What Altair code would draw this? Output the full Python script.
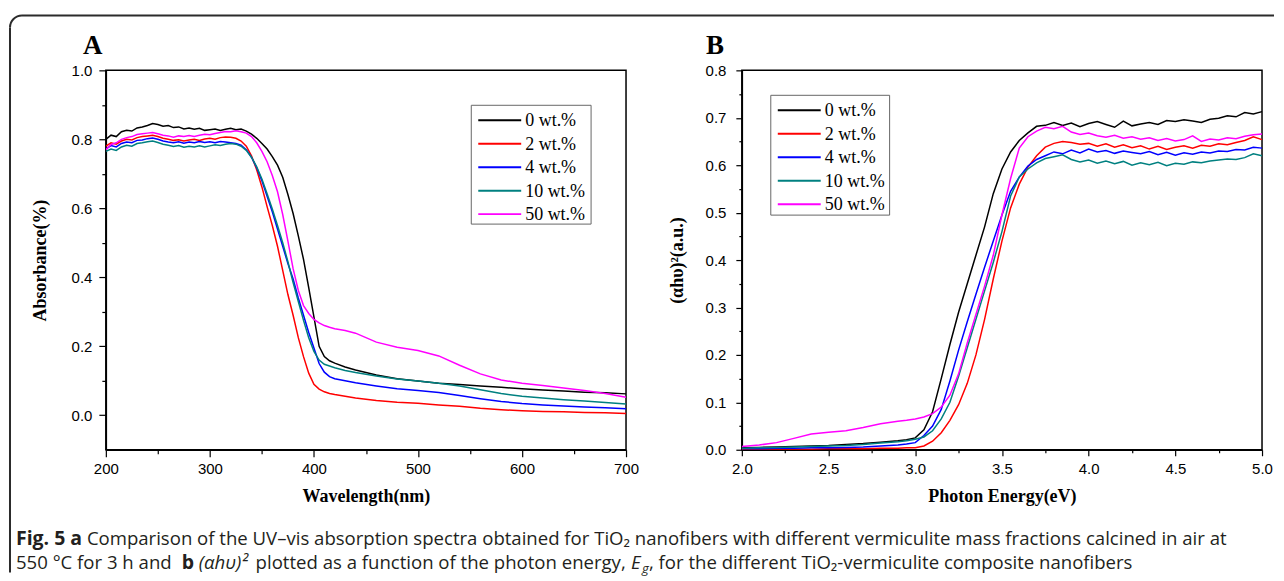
import altair as alt
import pandas as pd

SERIES = ["0 wt.%", "2 wt.%", "4 wt.%", "10 wt.%", "50 wt.%"]
COLORS = ["#000000", "#ff0000", "#0000ff", "#008080", "#ff00ff"]

# ---------------- Panel A : absorbance vs wavelength ----------------
wavelength = [200, 205, 210, 215, 220, 225, 230, 235, 240, 245,
              250, 255, 260, 265, 270, 275, 280, 285, 290, 295,
              300, 305, 310, 315, 320, 325, 330, 335, 340, 345,
              350, 355, 360, 365, 370, 375, 380, 385, 390, 395,
              400, 405, 410, 415, 420,
              430, 440, 460, 480, 500, 520, 540, 560, 580, 600, 620, 640, 660, 680, 700]

abs_0 = [0.800, 0.812, 0.808, 0.822, 0.826, 0.824, 0.833, 0.836, 0.840, 0.846,
         0.843, 0.838, 0.840, 0.834, 0.836, 0.830, 0.833, 0.829, 0.832, 0.826,
         0.828, 0.830, 0.826, 0.829, 0.832, 0.828, 0.830, 0.824, 0.815, 0.803,
         0.788, 0.772, 0.750, 0.725, 0.690, 0.640, 0.585, 0.520, 0.452, 0.370,
         0.285, 0.200, 0.170, 0.158, 0.151,
         0.140, 0.131, 0.117, 0.106, 0.099, 0.093, 0.089, 0.085, 0.081, 0.077, 0.073, 0.070, 0.067, 0.065, 0.062]
abs_2 = [0.780, 0.790, 0.786, 0.795, 0.800, 0.798, 0.805, 0.808, 0.810, 0.812,
         0.808, 0.803, 0.800, 0.797, 0.799, 0.795, 0.798, 0.800, 0.797, 0.801,
         0.803, 0.800, 0.805, 0.807, 0.806, 0.803, 0.795, 0.780, 0.752, 0.712,
         0.662, 0.605, 0.550, 0.490, 0.420, 0.350, 0.290, 0.225, 0.170, 0.122,
         0.090, 0.076, 0.068, 0.063, 0.060,
         0.055, 0.050, 0.043, 0.038, 0.035, 0.030, 0.026, 0.020, 0.016, 0.013, 0.011, 0.010, 0.008, 0.007, 0.005]
abs_4 = [0.772, 0.782, 0.778, 0.788, 0.792, 0.790, 0.797, 0.798, 0.802, 0.804,
         0.800, 0.795, 0.792, 0.790, 0.793, 0.789, 0.792, 0.790, 0.794, 0.791,
         0.793, 0.790, 0.794, 0.792, 0.790, 0.788, 0.783, 0.770, 0.748, 0.718,
         0.680, 0.635, 0.590, 0.540, 0.490, 0.440, 0.395, 0.340, 0.290, 0.240,
         0.195, 0.150, 0.125, 0.112, 0.106,
         0.100, 0.094, 0.085, 0.077, 0.072, 0.066, 0.057, 0.048, 0.040, 0.034, 0.030, 0.027, 0.024, 0.022, 0.019]
abs_10 = [0.765, 0.772, 0.768, 0.778, 0.783, 0.780, 0.788, 0.790, 0.793, 0.795,
          0.791, 0.786, 0.783, 0.779, 0.782, 0.777, 0.780, 0.778, 0.781, 0.778,
          0.781, 0.784, 0.782, 0.786, 0.788, 0.786, 0.780, 0.768, 0.748, 0.720,
          0.685, 0.642, 0.598, 0.550, 0.500, 0.445, 0.385, 0.330, 0.275, 0.225,
          0.185, 0.160, 0.148, 0.143, 0.138,
          0.130, 0.124, 0.114, 0.105, 0.099, 0.093, 0.085, 0.074, 0.063, 0.055, 0.050, 0.045, 0.041, 0.037, 0.033]
abs_50 = [0.770, 0.785, 0.790, 0.800, 0.805, 0.808, 0.814, 0.816, 0.818, 0.820,
          0.816, 0.812, 0.810, 0.806, 0.810, 0.808, 0.811, 0.808, 0.812, 0.815,
          0.813, 0.817, 0.820, 0.823, 0.822, 0.825, 0.822, 0.818, 0.808, 0.790,
          0.765, 0.735, 0.695, 0.648, 0.582, 0.505, 0.425, 0.362, 0.318, 0.295,
          0.278, 0.268, 0.260, 0.255, 0.251,
          0.246, 0.238, 0.212, 0.197, 0.188, 0.172, 0.145, 0.120, 0.102, 0.093, 0.086, 0.079, 0.072, 0.063, 0.052]

# ---------------- Panel B : (ahv)^2 vs photon energy ----------------
energy = [2.0, 2.1, 2.2, 2.3, 2.4, 2.5, 2.6, 2.7, 2.8, 2.9, 2.95,
          3.0, 3.05, 3.1, 3.15, 3.2, 3.25, 3.3, 3.35, 3.4, 3.45, 3.5, 3.55,
          3.6, 3.65, 3.7, 3.75, 3.8, 3.85, 3.9, 3.95, 4.0, 4.05, 4.1, 4.15, 4.2, 4.25,
          4.3, 4.35, 4.4, 4.45, 4.5, 4.55, 4.6, 4.65, 4.7, 4.75, 4.8, 4.85, 4.9, 4.95, 5.0]

ahv_0 = [0.004, 0.005, 0.006, 0.007, 0.008, 0.009, 0.011, 0.013, 0.016, 0.019, 0.021,
         0.025, 0.042, 0.080, 0.150, 0.222, 0.290, 0.350, 0.410, 0.470, 0.540, 0.592, 0.628,
         0.652, 0.668, 0.682, 0.684, 0.690, 0.684, 0.689, 0.681, 0.688, 0.692, 0.686, 0.680, 0.693, 0.683,
         0.687, 0.690, 0.686, 0.694, 0.692, 0.696, 0.693, 0.690, 0.697, 0.699, 0.704, 0.702, 0.711, 0.708, 0.713]
ahv_2 = [0.000, 0.000, 0.001, 0.001, 0.001, 0.002, 0.002, 0.002, 0.003, 0.003, 0.004,
         0.004, 0.008, 0.018, 0.036, 0.062, 0.095, 0.140, 0.200, 0.275, 0.360, 0.440, 0.510,
         0.560, 0.596, 0.620, 0.638, 0.646, 0.650, 0.648, 0.644, 0.646, 0.640, 0.645, 0.638, 0.643, 0.637,
         0.641, 0.634, 0.640, 0.633, 0.638, 0.641, 0.636, 0.642, 0.640, 0.645, 0.643, 0.648, 0.652, 0.660, 0.654]
ahv_4 = [0.002, 0.002, 0.003, 0.003, 0.004, 0.004, 0.005, 0.006, 0.008, 0.010, 0.012,
         0.015, 0.030, 0.050, 0.085, 0.145, 0.210, 0.270, 0.328, 0.385, 0.440, 0.495, 0.545,
         0.575, 0.598, 0.612, 0.620, 0.628, 0.624, 0.632, 0.626, 0.634, 0.628, 0.631, 0.625, 0.630, 0.627,
         0.624, 0.629, 0.622, 0.627, 0.621, 0.626, 0.623, 0.628, 0.626, 0.630, 0.629, 0.633, 0.632, 0.638, 0.636]
ahv_10 = [0.003, 0.004, 0.005, 0.006, 0.007, 0.008, 0.009, 0.011, 0.014, 0.017, 0.019,
          0.022, 0.027, 0.040, 0.065, 0.100, 0.155, 0.215, 0.275, 0.335, 0.395, 0.460, 0.535,
          0.575, 0.592, 0.605, 0.614, 0.618, 0.622, 0.612, 0.607, 0.611, 0.604, 0.609, 0.603, 0.608, 0.600,
          0.605, 0.601, 0.606, 0.599, 0.604, 0.602, 0.607, 0.605, 0.609, 0.611, 0.613, 0.612, 0.616, 0.624, 0.620]
ahv_50 = [0.007, 0.010, 0.015, 0.024, 0.033, 0.037, 0.040, 0.047, 0.055, 0.060, 0.062,
          0.065, 0.069, 0.076, 0.090, 0.115, 0.160, 0.225, 0.285, 0.345, 0.410, 0.495, 0.572,
          0.636, 0.660, 0.672, 0.680, 0.677, 0.682, 0.670, 0.665, 0.668, 0.662, 0.659, 0.663, 0.657, 0.660,
          0.655, 0.658, 0.652, 0.656, 0.651, 0.654, 0.662, 0.650, 0.655, 0.653, 0.658, 0.656, 0.661, 0.664, 0.666]

# tick values (majors are labelled, the others are minor ticks)
ticks_xA = [200, 250, 300, 350, 400, 450, 500, 550, 600, 650, 700]
ticks_yA = [0.0, 0.1, 0.2, 0.3, 0.4, 0.5, 0.6, 0.7, 0.8, 0.9, 1.0]
ticks_xB = [2.0, 2.25, 2.5, 2.75, 3.0, 3.25, 3.5, 3.75, 4.0, 4.25, 4.5, 4.75, 5.0]
ticks_yB = [0.0, 0.05, 0.1, 0.15, 0.2, 0.25, 0.3, 0.35, 0.4, 0.45, 0.5, 0.55, 0.6, 0.65, 0.7, 0.75, 0.8]

caption_1a = "Fig. 5 a"
caption_1b = ("Comparison of the UV\u2013vis absorption spectra obtained for TiO\u2082 nanofibers with "
              "different vermiculite mass fractions calcined in air at")
caption_2 = ["550 \u00b0C for 3 h and", "b", "(\u03b1h\u03c5)\u00b2",
             "plotted as a function of the photon energy,", "E", "g",
             ", for the different TiO\u2082-vermiculite composite nanofibers"]

dfA = pd.DataFrame([{"wavelength": w, "absorbance": v, "series": s}
                    for s, vals in zip(SERIES, [abs_0, abs_2, abs_4, abs_10, abs_50])
                    for w, v in zip(wavelength, vals)])
dfB = pd.DataFrame([{"energy": e, "ahv": v, "series": s}
                    for s, vals in zip(SERIES, [ahv_0, ahv_2, ahv_4, ahv_10, ahv_50])
                    for e, v in zip(energy, vals)])
one = pd.DataFrame({"k": [0]})

color_scale = alt.Scale(domain=SERIES, range=COLORS)


def tick_cond(test, major, minor):
    return {"condition": {"test": test, "value": major}, "value": minor}


def legend_box(x0, y0, w, h, row0, step=23.5):
    parts = [alt.Chart(one).mark_rect(fill="white", stroke="#666666", strokeWidth=1).encode(
        x=alt.value(x0), x2=alt.value(x0 + w), y=alt.value(y0), y2=alt.value(y0 + h))]
    for i, (s, c) in enumerate(zip(SERIES, COLORS)):
        yy = row0 + i * step
        parts.append(alt.Chart(one).mark_rule(color=c, strokeWidth=2).encode(
            x=alt.value(x0 + 7), x2=alt.value(x0 + 50), y=alt.value(yy)))
        parts.append(alt.Chart(one).mark_text(text=s, align="left", baseline="middle",
                                              font="Liberation Serif", fontSize=18,
                                              color="black").encode(
            x=alt.value(x0 + 54), y=alt.value(yy + 1)))
    return parts


PW, PH = 521, 380

# ---- panel A
testXA = "datum.value % 100 === 0"
testYA = "round(datum.value * 10) % 2 === 0"
linesA = alt.Chart(dfA).mark_line(strokeWidth=1.5, clip=True).encode(
    x=alt.X("wavelength:Q", scale=alt.Scale(domain=[200, 700], nice=False, zero=False),
            axis=alt.Axis(values=ticks_xA, title="Wavelength(nm)", format="d", labelFlush=False,
                          labelExpr=f"{testXA} ? datum.label : ''",
                          tickSize=tick_cond(testXA, 7, 4), labelPadding=5, titlePadding=11)),
    y=alt.Y("absorbance:Q", scale=alt.Scale(domain=[-0.1, 1.0], nice=False, zero=False),
            axis=alt.Axis(values=ticks_yA, title="Absorbance(%)", format=".1f", labelFlush=False,
                          labelExpr=f"{testYA} ? datum.label : ''",
                          tickSize=tick_cond(testYA, 7, 4), labelPadding=7, titlePadding=22)),
    color=alt.Color("series:N", scale=color_scale, sort=SERIES, legend=None),
)
labelA = alt.Chart(one).mark_text(text="A", align="left", baseline="alphabetic",
                                  font="Liberation Serif", fontSize=27, fontWeight="bold",
                                  color="black").encode(x=alt.value(-23), y=alt.value(-16))

# ---- caption + outer frame (positioned relative to panel A's plot origin)
CF = "Open Sans"
CC = "#231f20"
CS = 18.6


def seg(text, x, y, weight="normal", style="normal", size=CS):
    return alt.Chart(one).mark_text(text=text, align="left", baseline="alphabetic", font=CF,
                                    fontSize=size, fontWeight=weight, fontStyle=style,
                                    color=CC).encode(x=alt.value(x), y=alt.value(y))


segs = [
    seg(caption_1a, -90, 475, weight="bold", size=19.5),
    seg(caption_1b, -19, 475),
    seg(caption_2[0], -90, 499),
    seg(caption_2[1], 76, 499, weight="bold", size=19.5),
    seg(caption_2[2], 93, 499, style="italic"),
    seg(caption_2[3], 150, 499),
    seg(caption_2[4], 526, 499, style="italic"),
    seg(caption_2[5], 537, 503, style="italic", size=13),
    seg(caption_2[6], 544, 499),
]
FRAME = "#2b2b2b"
frame = [
    alt.Chart(one).mark_rule(color=FRAME, strokeWidth=2).encode(
        x=alt.value(-84), x2=alt.value(1170), y=alt.value(-55)),
    alt.Chart(one).mark_rule(color=FRAME, strokeWidth=2).encode(
        x=alt.value(-96), y=alt.value(-43), y2=alt.value(503)),
    alt.Chart(one).mark_arc(theta=4.712389, theta2=6.283185, radius=13, radius2=11,
                            color=FRAME).encode(x=alt.value(-84), y=alt.value(-43)),
]

panelA = alt.layer(linesA, labelA, *legend_box(366, 35, 120, 119, 50), *segs, *frame).properties(
    width=PW, height=PH)

# ---- panel B
testXB = "round(datum.value * 4) % 2 === 0"
testYB = "round(datum.value * 20) % 2 === 0"
linesB = alt.Chart(dfB).mark_line(strokeWidth=1.5, clip=True).encode(
    x=alt.X("energy:Q", scale=alt.Scale(domain=[2.0, 5.0], nice=False, zero=False),
            axis=alt.Axis(values=ticks_xB, title="Photon Energy(eV)", format=".1f", labelFlush=False,
                          labelExpr=f"{testXB} ? datum.label : ''",
                          tickSize=tick_cond(testXB, 6, 3), labelPadding=6, titlePadding=11)),
    y=alt.Y("ahv:Q", scale=alt.Scale(domain=[0.0, 0.8], nice=False, zero=False),
            axis=alt.Axis(values=ticks_yB, title="(\u03b1h\u03c5)\u00b2(a.u.)", format=".1f", labelFlush=False,
                          labelExpr=f"{testYB} ? datum.label : ''",
                          tickSize=tick_cond(testYB, 6, 3), labelPadding=10, titlePadding=19)),
    color=alt.Color("series:N", scale=color_scale, sort=SERIES, legend=None),
)
labelB = alt.Chart(one).mark_text(text="B", align="left", baseline="alphabetic",
                                  font="Liberation Serif", fontSize=27, fontWeight="bold",
                                  color="black").encode(x=alt.value(-36), y=alt.value(-16))
panelB = alt.layer(linesB, labelB, *legend_box(29, 25, 119, 120, 40)).properties(
    width=PW, height=PH)

chart = alt.hconcat(panelA, panelB, spacing=116, bounds="flush").properties(
    padding={"left": 0, "top": 5, "right": 0, "bottom": 0}, background="white"
).configure_view(stroke="black", strokeWidth=1.5).configure_axis(
    grid=False, domainColor="black", domainWidth=1.5, tickColor="black", tickWidth=1.2,
    labelFont="Liberation Sans", labelFontSize=15, labelColor="black",
    titleFont="Liberation Serif", titleFontSize=18, titleFontWeight="bold", titleColor="black",
)

chart.save("out.html", embed_options={"renderer": "svg", "actions": False})
